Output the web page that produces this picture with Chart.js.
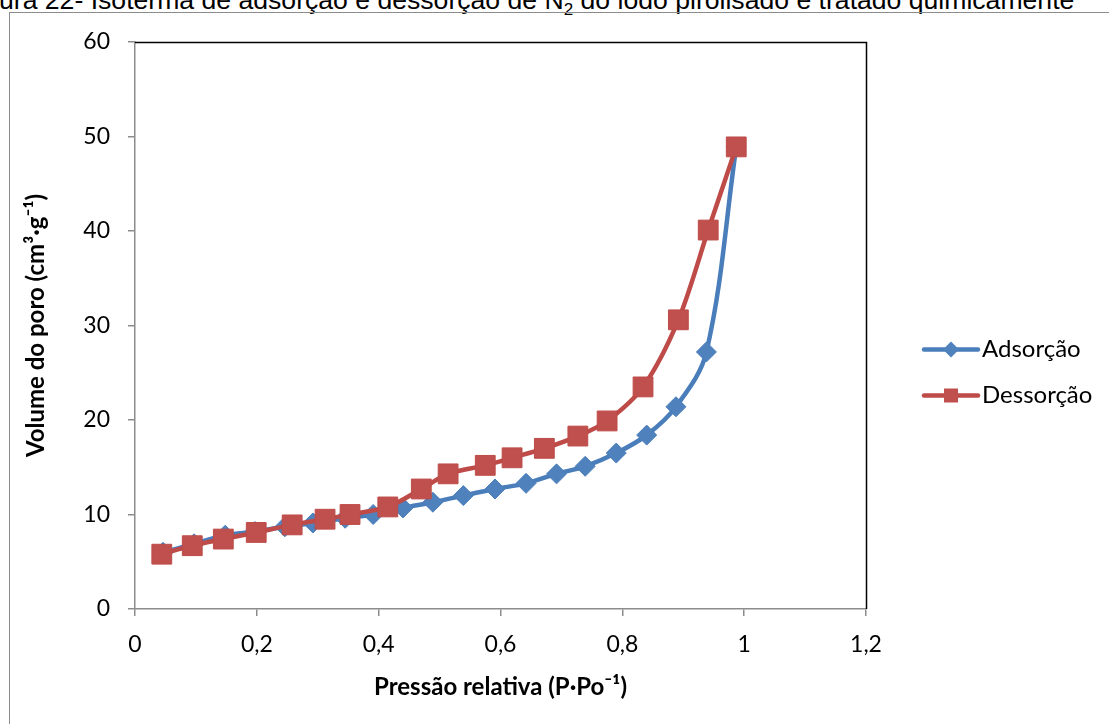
<!DOCTYPE html>
<html>
<head>
<meta charset="utf-8">
<script src="https://cdn.jsdelivr.net/npm/chart.js@4"></script>
<style>
  html, body { margin: 0; padding: 0; background: #fff; }
  body { width: 1109px; height: 724px; position: relative; overflow: hidden; }
  #caption {
    position: absolute; left: -1px; top: -13px; line-height: 26px;
    font-family: "Liberation Sans", Arial, sans-serif; font-size: 26.6px;
    white-space: nowrap; color: #000;
  }
  #caption sub { font-size: 17px; line-height: 0; }
  #frame {
    position: absolute; left: 9px; top: 12px; width: 1200px; height: 800px;
    border-left: 1.5px solid #8c8c8c; border-top: 1.5px solid #8c8c8c;
  }
  #chart { position: absolute; left: 0; top: 0; }
</style>
</head>
<body>
<div id="caption">ura 22- Isoterma de adsorção e dessorção de N<sub>2</sub> do lodo pirolisado e tratado quimicamente</div>
<div id="frame"></div>
<canvas id="chart" width="1109" height="724"></canvas>
<script>
// relative pressure (P/Po) and pore volume (cm3/g)
const adsP = [0.046, 0.097, 0.148, 0.197, 0.246, 0.292, 0.345, 0.391, 0.440, 0.489, 0.539, 0.591, 0.642, 0.692, 0.739, 0.790, 0.840, 0.888, 0.938, 0.987];
const adsV = [6.0, 6.9, 7.8, 8.2, 8.7, 9.1, 9.6, 10.0, 10.7, 11.3, 12.0, 12.7, 13.3, 14.3, 15.1, 16.5, 18.4, 21.4, 27.2, 48.9];
const desP = [0.044, 0.094, 0.145, 0.199, 0.258, 0.312, 0.353, 0.415, 0.470, 0.514, 0.575, 0.619, 0.672, 0.727, 0.775, 0.834, 0.892, 0.941, 0.987];
const desV = [5.8, 6.7, 7.4, 8.1, 8.9, 9.5, 10.0, 10.8, 12.7, 14.3, 15.2, 16.0, 17.0, 18.3, 19.9, 23.5, 30.6, 40.1, 48.9];

const seriesNames = ['Adsorção', 'Dessorção'];
const xTitle = 'Pressão relativa (P·Po⁻¹)';
const yTitle = 'Volume do poro (cm³·g⁻¹)';

const BLUE = '#4a7ebb', BLUE_FILL = '#4f81bd';
const RED = '#be4b48', RED_FILL = '#c0504d';
const FONT = 'Lato, "Open Sans", sans-serif';

const pts = (xs, ys) => xs.map((x, i) => ({ x, y: ys[i] }));
const comma = v => String(Number(v.toFixed(1))).replace('.', ',');

// black top/right border of the plot area
const plotBorder = {
  id: 'plotBorder',
  afterDraw(chart) {
    const { ctx, chartArea: a } = chart;
    ctx.save();
    ctx.strokeStyle = '#000';
    ctx.lineWidth = 1.5;
    ctx.beginPath();
    ctx.moveTo(a.left, a.top + 0.5);
    ctx.lineTo(a.right + 0.5, a.top + 0.5);
    ctx.lineTo(a.right + 0.5, a.bottom);
    ctx.stroke();
    ctx.restore();
  }
};

// legend: line with marker, then label
const lineLegend = {
  id: 'lineLegend',
  afterDraw(chart) {
    const { ctx, chartArea: a } = chart;
    const mid = (a.top + a.bottom) / 2;
    const x0 = a.right + 58, x1 = a.right + 112;
    const items = [
      { name: seriesNames[0], line: BLUE, fill: BLUE_FILL, y: mid + 24, shape: 'diamond' },
      { name: seriesNames[1], line: RED, fill: RED_FILL, y: mid + 70, shape: 'square' }
    ];
    ctx.save();
    items.forEach(it => {
      ctx.strokeStyle = it.line;
      ctx.lineWidth = 4.5;
      ctx.lineCap = 'round';
      ctx.beginPath();
      ctx.moveTo(x0, it.y);
      ctx.lineTo(x1, it.y);
      ctx.stroke();
      const cx = (x0 + x1) / 2;
      ctx.fillStyle = it.fill;
      ctx.beginPath();
      if (it.shape === 'diamond') {
        ctx.moveTo(cx - 8, it.y); ctx.lineTo(cx, it.y - 8);
        ctx.lineTo(cx + 8, it.y); ctx.lineTo(cx, it.y + 8);
      } else {
        ctx.rect(cx - 7, it.y - 7, 14, 14);
      }
      ctx.closePath();
      ctx.fill();
      ctx.fillStyle = '#000';
      ctx.font = '24px ' + FONT;
      ctx.textBaseline = 'middle';
      ctx.fillText(it.name, x1 + 4, it.y);
    });
    ctx.restore();
  }
};

new Chart(document.getElementById('chart'), {
  type: 'scatter',
  data: {
    datasets: [
      {
        label: seriesNames[0], data: pts(adsP, adsV), order: 1,
        showLine: true, tension: 0.35, borderColor: BLUE, borderWidth: 4.5,
        pointStyle: 'rectRot', pointRadius: 10, pointBackgroundColor: BLUE_FILL,
        pointBorderColor: BLUE, pointBorderWidth: 1
      },
      {
        label: seriesNames[1], data: pts(desP, desV), order: 0,
        showLine: true, tension: 0.3, borderColor: RED, borderWidth: 4.5,
        pointStyle: 'rect', pointRadius: 14, pointBackgroundColor: RED_FILL,
        pointBorderColor: RED, pointBorderWidth: 1
      }
    ]
  },
  options: {
    responsive: false,
    animation: false,
    devicePixelRatio: 1,
    layout: { padding: { left: 10, right: 243, top: 42, bottom: 18 } },
    plugins: { legend: { display: false }, tooltip: { enabled: false } },
    scales: {
      x: {
        type: 'linear', min: 0, max: 1.2,
        afterFit: s => { s.height = 97; },
        border: { color: '#8c8c8c', width: 1.5 },
        grid: { drawOnChartArea: false, drawTicks: true, tickLength: 7, color: '#8c8c8c', lineWidth: 1.5 },
        ticks: { stepSize: 0.2, padding: 15, color: '#000', font: { family: FONT, size: 23 }, callback: comma },
        title: { display: true, text: xTitle, color: '#000', font: { family: FONT, size: 24, weight: 'bold' }, padding: { top: 4, bottom: 4 } }
      },
      y: {
        min: 0, max: 60,
        afterFit: s => { s.width = 125; },
        border: { color: '#8c8c8c', width: 1.5 },
        grid: { drawOnChartArea: false, drawTicks: true, tickLength: 7, color: '#8c8c8c', lineWidth: 1.5 },
        ticks: { stepSize: 10, padding: 18, color: '#000', font: { family: FONT, size: 23 } },
        title: { display: true, text: yTitle, color: '#000', font: { family: FONT, size: 24, weight: 'bold' }, padding: { top: 12, bottom: 4 } }
      }
    }
  },
  plugins: [plotBorder, lineLegend]
});
</script>
</body>
</html>
